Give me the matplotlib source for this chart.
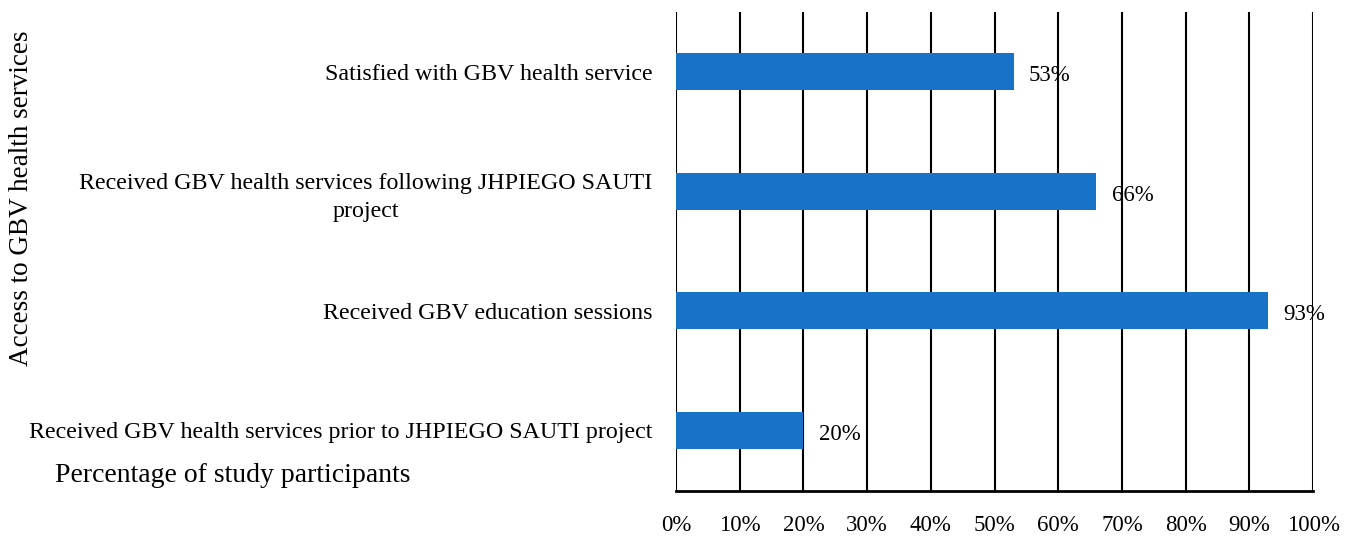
import matplotlib.pyplot as plt
import numpy as np

categories = [
    "Received GBV health services prior to JHPIEGO SAUTI project",
    "Received GBV education sessions",
    "Received GBV health services following JHPIEGO SAUTI\nproject",
    "Satisfied with GBV health service",
]
values = [20, 93, 66, 53]
x_ticks = list(range(0, 101, 10))

plt.rcParams['font.family'] = ['Liberation Serif', 'DejaVu Serif']

fig = plt.figure(figsize=(13.52, 5.36), dpi=100)
ax = fig.add_axes([0.5, 0.084, 0.4712, 0.8936])

pos = np.arange(len(categories))
ax.barh(pos, values, height=0.31, color='#1872C8', zorder=3)

for p, v in zip(pos, values):
    ax.annotate(f"{v}%", (v, p), xytext=(11, -3), textcoords='offset points',
                ha='left', va='center', fontsize=16.5, zorder=4)

ax.set_xlim(0, 100)
ax.set_ylim(-0.51, 3.5)
ax.set_xticks(x_ticks)
ax.set_xticklabels([f"{t}%" for t in x_ticks], fontsize=16.5)
ax.set_yticks(pos)
ax.set_yticklabels(categories, fontsize=17.3, multialignment='center',
                   linespacing=1.45)
ax.tick_params(axis='x', length=0, pad=17)
ax.tick_params(axis='y', length=0, pad=17)

ax.grid(axis='x', color='black', linewidth=1.5, zorder=1)
for s in ['top', 'right', 'left']:
    ax.spines[s].set_visible(False)
ax.spines['bottom'].set_linewidth(2)

fig.text(0.016, 0.63, "Access to GBV health services", rotation=90,
         ha='center', va='center', fontsize=19.5)
fig.text(0.041, 0.112, "Percentage of study participants", ha='left',
         va='center', fontsize=20)

fig.savefig("out.png", dpi=100)
